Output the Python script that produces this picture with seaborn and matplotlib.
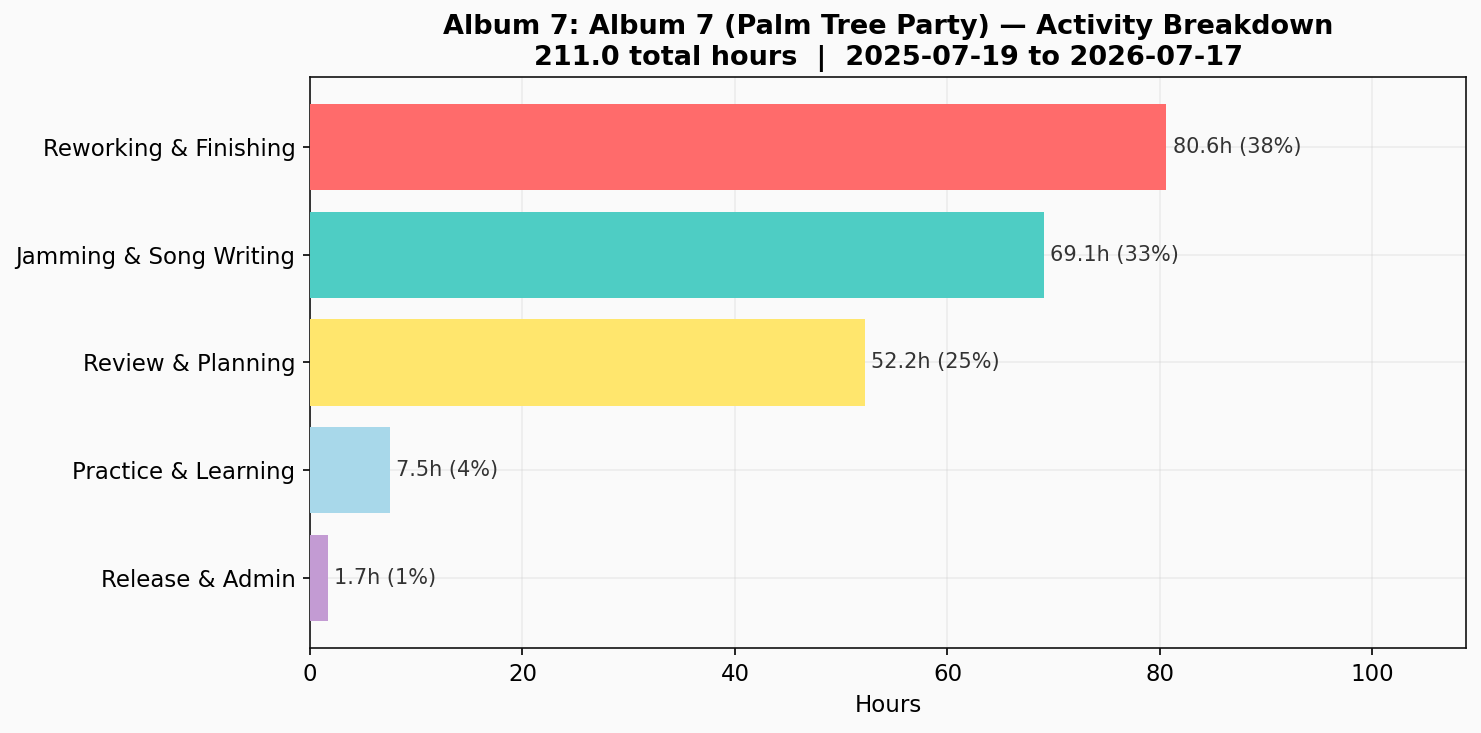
import matplotlib
matplotlib.use("Agg")
import matplotlib.pyplot as plt
import pandas as pd
import seaborn as sns

categories = ["Reworking & Finishing", "Jamming & Song Writing", "Review & Planning",
              "Practice & Learning", "Release & Admin"]
hours = [80.6, 69.1, 52.2, 7.5, 1.7]
percents = [38, 33, 25, 4, 1]
colors = ["#FF6B6B", "#4ECDC4", "#FFE66D", "#A8D8EA", "#C39BD3"]

total = 211.0
title = ("Album 7: Album 7 (Palm Tree Party) \u2014 Activity Breakdown\n"
         f"{total:.1f} total hours  |  2025-07-19 to 2026-07-17")

sns.set_style("ticks")
plt.rcParams["font.family"] = ["DejaVu Sans"]
plt.rcParams["text.color"] = "black"
plt.rcParams["axes.labelcolor"] = "black"
plt.rcParams["xtick.color"] = "black"
plt.rcParams["ytick.color"] = "black"

df = pd.DataFrame({"category": categories, "hours": hours})

fig = plt.figure(figsize=(1481 / 150, 733 / 150), dpi=150, facecolor="#fafafa")
ax = fig.add_axes([310 / 1481, 1 - 648 / 733, (1466 - 310) / 1481, (648 - 77) / 733])
ax.set_facecolor("#fafafa")

sns.barplot(data=df, x="hours", y="category", hue="category", palette=colors,
            legend=False, width=0.8, saturation=1, linewidth=0, ax=ax, zorder=3)

for i, (h, p) in enumerate(zip(hours, percents)):
    ax.text(h + 0.6, i, f"{h}h ({p}%)", va="center", ha="left", fontsize=10, color="#333333")

ax.set_xlim(0, max(hours) * 1.35)
ax.set_ylim(4.65, -0.65)
ax.grid(True, alpha=0.3, zorder=0)
ax.set_axisbelow(True)
ax.set_xlabel("Hours", fontsize=11)
ax.set_ylabel("")
ax.tick_params(labelsize=11)
for s in ax.spines.values():
    s.set_visible(True)
    s.set_color("#111111")
ax.set_title(title, fontsize=13, fontweight="bold")

fig.savefig("out.png", dpi=150, facecolor=fig.get_facecolor())
